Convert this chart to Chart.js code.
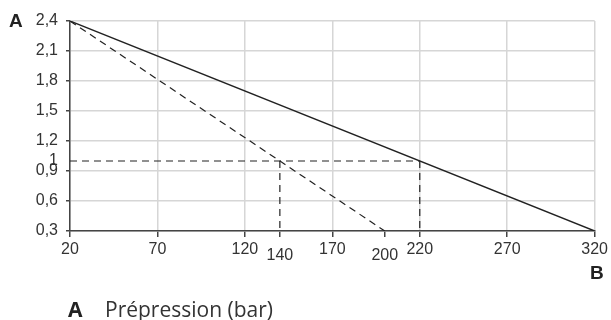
<!DOCTYPE html>
<html>
<head>
<meta charset="utf-8">
<script src="https://cdn.jsdelivr.net/npm/chart.js@4"></script>
<style>
  html, body { margin: 0; padding: 0; background: #fff; overflow: hidden; }
  #wrap { position: relative; width: 611px; height: 320px; }
  .axname { position: absolute; font: bold 19px "Liberation Sans", Arial, sans-serif; color: #222; line-height: 20px; }
  .legend { position: absolute; left: 68px; top: 295px; font: 21px "Open Sans", sans-serif; color: #333; white-space: nowrap; }
  .legend b { display: inline-block; width: 37px; color: #222; }
</style>
</head>
<body>
<div id="wrap">
  <canvas id="chart" width="611" height="320"></canvas>
  <div class="axname" style="left:9px; top:11px;">A</div>
  <div class="axname" style="left:590px; top:263px;">B</div>
  <div class="legend"><b>A</b>Prépression (bar)</div>
</div>
<script>
// axis ticks
var xTicks = [20, 70, 120, 170, 220, 270, 320];
var xExtraTicks = [140, 200];
var yTicks = [0.3, 0.6, 0.9, 1.2, 1.5, 1.8, 2.1, 2.4];
var yExtraTicks = [1];

// curves
var solidX = [20, 320];
var solidY = [2.4, 0.3];
var dashX = [20, 200];
var dashY = [2.4, 0.3];

// reading lines
var refHX = [20, 220];
var refHY = [1, 1];
var refV1X = [140, 140];
var refV1Y = [1, 0.3];
var refV2X = [220, 220];
var refV2Y = [1, 0.3];

var tickFont = '"Liberation Sans", Arial, sans-serif';

function pts(xs, ys) {
    return xs.map(function(x, i) { return { x: x, y: ys[i] }; });
}

function isExtra(list, v) {
    return list.some(function(e) { return Math.abs(e - v) < 1e-6; });
}

// draw the shifted x labels (140, 200) a bit lower than the others
var extraLabels = {
    id: 'extraLabels',
    afterDraw: function(chart) {
        var c = chart.ctx;
        var xs = chart.scales.x;
        c.save();
        c.font = '16px ' + tickFont;
        c.fillStyle = '#333';
        c.textAlign = 'center';
        c.textBaseline = 'middle';
        xExtraTicks.forEach(function(v) {
            c.fillText(String(v), xs.getPixelForValue(v), chart.chartArea.bottom + 25);
        });
        c.restore();
    }
};

var refStyle = { borderColor: '#222', borderWidth: 1.2, borderDash: [7, 5], pointRadius: 0, showLine: true, fill: false };

var ctx = document.getElementById('chart').getContext('2d');
new Chart(ctx, {
    type: 'scatter',
    data: {
        datasets: [
            { data: pts(solidX, solidY), borderColor: '#222', borderWidth: 1.4, pointRadius: 0, showLine: true },
            { data: pts(dashX, dashY), borderColor: '#222', borderWidth: 1.2, borderDash: [7, 5], pointRadius: 0, showLine: true },
            Object.assign({ data: pts(refHX, refHY) }, refStyle),
            Object.assign({ data: pts(refV1X, refV1Y) }, refStyle),
            Object.assign({ data: pts(refV2X, refV2Y) }, refStyle)
        ]
    },
    options: {
        responsive: false,
        animation: false,
        layout: { padding: { left: 0, top: 21, right: 13, bottom: 49 } },
        plugins: { legend: { display: false }, tooltip: { enabled: false } },
        scales: {
            x: {
                type: 'linear',
                min: 20,
                max: 320,
                afterFit: function(scale) { scale.height = 40; },
                afterBuildTicks: function(scale) {
                    scale.ticks = xTicks.concat(xExtraTicks).sort(function(a, b) { return a - b; })
                        .map(function(v) { return { value: v }; });
                },
                border: { color: '#444', width: 1.5 },
                grid: {
                    color: function(c) { return isExtra(xExtraTicks, c.tick.value) ? 'rgba(0,0,0,0)' : '#d6d6d6'; },
                    lineWidth: 1.5,
                    tickLength: 6,
                    tickColor: '#444'
                },
                ticks: {
                    autoSkip: false,
                    maxRotation: 0,
                    padding: 3,
                    color: '#333',
                    font: { family: tickFont, size: 16 },
                    callback: function(v) { return isExtra(xExtraTicks, v) ? '' : String(v); }
                }
            },
            y: {
                type: 'linear',
                min: 0.3,
                max: 2.4,
                afterFit: function(scale) { scale.width = 70; },
                afterBuildTicks: function(scale) {
                    scale.ticks = yTicks.concat(yExtraTicks).sort(function(a, b) { return a - b; })
                        .map(function(v) { return { value: v }; });
                },
                border: { color: '#444', width: 1.5 },
                grid: {
                    color: function(c) { return isExtra(yExtraTicks, c.tick.value) ? 'rgba(0,0,0,0)' : '#d6d6d6'; },
                    lineWidth: 1.5,
                    tickLength: 4,
                    tickColor: function(c) { return isExtra(yExtraTicks, c.tick.value) ? 'rgba(0,0,0,0)' : '#444'; }
                },
                ticks: {
                    autoSkip: false,
                    padding: 8,
                    color: '#333',
                    font: { family: tickFont, size: 16 },
                    callback: function(v) { return String(v).replace('.', ','); }
                }
            }
        }
    },
    plugins: [extraLabels]
});
</script>
</body>
</html>
